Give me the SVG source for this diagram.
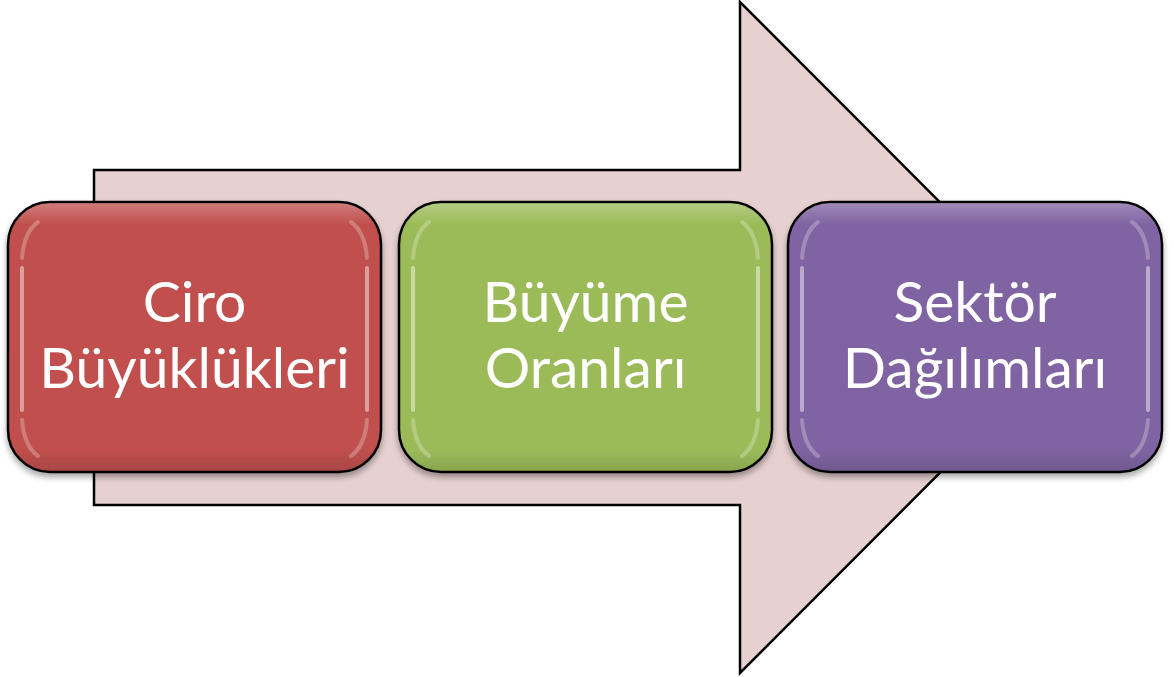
<svg xmlns="http://www.w3.org/2000/svg" width="1174" height="677" viewBox="0 0 1174 677">
  <defs>
    <style>
      .arrow { fill: #E7D0D0; stroke: #000; stroke-width: 2.5; stroke-linejoin: miter; }
      .box { stroke: #000; stroke-width: 2.5; }
      .label { font-family: Lato, "Open Sans", sans-serif; font-size: 57px; fill: #fff; text-anchor: middle; }
      .gloss { fill: url(#topShade); }
      .rim { fill: none; stroke: #fff; stroke-width: 4; stroke-linecap: round; opacity: 0.45; }
      .corner { fill: none; stroke: #fff; stroke-width: 4; stroke-linecap: round; opacity: 0.25; }
    </style>
    <linearGradient id="topShade" x1="0" y1="0" x2="0" y2="1">
      <stop offset="0" stop-color="#fff" stop-opacity="0.25"/>
      <stop offset="0.08" stop-color="#fff" stop-opacity="0"/>
      <stop offset="0.92" stop-color="#000" stop-opacity="0"/>
      <stop offset="1" stop-color="#000" stop-opacity="0.12"/>
    </linearGradient>
    <filter id="shadow" x="-10%" y="-10%" width="120%" height="130%">
      <feGaussianBlur in="SourceAlpha" stdDeviation="3"/>
      <feOffset dx="0" dy="4" result="b"/>
      <feComponentTransfer><feFuncA type="linear" slope="0.35"/></feComponentTransfer>
      <feMerge><feMergeNode/><feMergeNode in="SourceGraphic"/></feMerge>
    </filter>
  </defs>

  <!-- background arrow -->
  <g id="connectors">
    <path class="arrow" d="M94,170 H740 V2 L1075,337.5 L740,673 V505 H94 Z"/>
  </g>

  <g id="node-ciro" filter="url(#shadow)">
    <rect class="box" x="8" y="202" width="373" height="270" rx="42" fill="#C0504D"/>
    <rect class="gloss" x="9" y="203" width="371" height="268" rx="41"/>
    <path class="rim" d="M22,268 V410 M367,268 V410"/>
    <path class="corner" d="M22,258 Q24,232 38,222 M367,258 Q365,232 351,222 M22,420 Q24,446 38,456 M367,420 Q365,446 351,456"/>
    <text class="label" x="194.5" y="322">Ciro</text>
    <text class="label" x="194.5" y="388">Büyüklükleri</text>
  </g>

  <g id="node-buyume" filter="url(#shadow)">
    <rect class="box" x="399" y="202" width="373" height="270" rx="42" fill="#9BBB59"/>
    <rect class="gloss" x="400" y="203" width="371" height="268" rx="41"/>
    <path class="rim" d="M413,268 V410 M758,268 V410"/>
    <path class="corner" d="M413,258 Q415,232 429,222 M758,258 Q756,232 742,222 M413,420 Q415,446 429,456 M758,420 Q756,446 742,456"/>
    <text class="label" x="585.5" y="322">Büyüme</text>
    <text class="label" x="585.5" y="388">Oranları</text>
  </g>

  <g id="node-sektor" filter="url(#shadow)">
    <rect class="box" x="788" y="202" width="374" height="270" rx="42" fill="#8064A2"/>
    <rect class="gloss" x="789" y="203" width="372" height="268" rx="41"/>
    <path class="rim" d="M802,268 V410 M1148,268 V410"/>
    <path class="corner" d="M802,258 Q804,232 818,222 M1148,258 Q1146,232 1132,222 M802,420 Q804,446 818,456 M1148,420 Q1146,446 1132,456"/>
    <text class="label" x="975" y="322">Sektör</text>
    <text class="label" x="975" y="388">Dağılımları</text>
  </g>
</svg>
